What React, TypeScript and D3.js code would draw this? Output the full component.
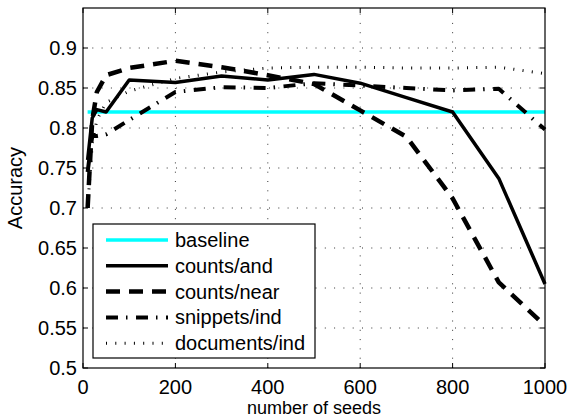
import { line, range, scaleLinear } from "d3";

const seeds = [10, 20, 30, 50, 100, 200, 300, 400, 500, 600, 700, 800, 900, 1000];
const baseline = 0.82;
const countsAnd = [0.76, 0.8125, 0.823, 0.82, 0.86, 0.857, 0.865, 0.86, 0.867, 0.856, 0.838, 0.82, 0.737, 0.605];
const countsNear = [0.7, 0.81, 0.845, 0.866, 0.875, 0.884, 0.876, 0.866, 0.855, 0.822, 0.789, 0.712, 0.607, 0.553];
const snippetsInd = [0.745, 0.79, 0.79, 0.792, 0.81, 0.845, 0.851, 0.85, 0.856, 0.853, 0.85, 0.847, 0.849, 0.798];
const documentsInd = [0.7, 0.78, 0.81, 0.832, 0.846, 0.862, 0.87, 0.875, 0.876, 0.876, 0.875, 0.875, 0.876, 0.868];

const xTicks = [0, 200, 400, 600, 800, 1000];
const yTicks = [0.5, 0.55, 0.6, 0.65, 0.7, 0.75, 0.8, 0.85, 0.9];

const font = "'Liberation Sans', Arial, Helvetica, sans-serif";

const styles = [
  { name: "baseline", color: "#00ffff", width: 3.5, dash: "none" },
  { name: "counts/and", color: "#000", width: 3.5, dash: "none" },
  { name: "counts/near", color: "#000", width: 4.5, dash: "14 9" },
  { name: "snippets/ind", color: "#000", width: 4, dash: "12 8 1.5 8.5" },
  { name: "documents/ind", color: "#000", width: 3, dash: "1 8.3" },
];

export default function App() {
  const left = 83,
    right = 545,
    top = 8,
    bottom = 368;

  const x = scaleLinear().domain([0, 1000]).range([left, right]);
  const y = scaleLinear().domain([0.5, 0.95]).range([bottom, top]);

  const path = line<number>()
    .x((_, i) => x(seeds[i]))
    .y((d) => y(d));

  const series = [
    seeds.map(() => baseline),
    countsAnd,
    countsNear,
    snippetsInd,
    documentsInd,
  ];

  const legX = 93,
    legY = 224,
    legW = 222,
    legH = 134;
  const rowH = 25.8;

  return (
    <svg width={570} height={420} style={{ position: "absolute", left: 0, top: 0, background: "#fff" }}>
      <rect x={0} y={0} width={570} height={420} fill="#fff" />

      {/* grid */}
      <g stroke="#333" strokeWidth={1} strokeDasharray="1 8.3">
        {xTicks.slice(1, -1).map((t) => (
          <line key={"gx" + t} x1={x(t)} x2={x(t)} y1={bottom} y2={top} />
        ))}
        {yTicks.slice(1).map((t) => (
          <line key={"gy" + t} x1={left} x2={right} y1={y(t)} y2={y(t)} />
        ))}
      </g>

      {/* series */}
      <g fill="none">
        {series.map((d, i) => (
          <path
            key={styles[i].name}
            d={path(d) ?? ""}
            stroke={styles[i].color}
            strokeWidth={styles[i].width}
            strokeDasharray={styles[i].dash}
            strokeLinejoin="round"
          />
        ))}
      </g>

      {/* box + ticks */}
      <rect x={left} y={top} width={right - left} height={bottom - top} fill="none" stroke="#000" strokeWidth={1.2} />
      <g stroke="#000" strokeWidth={1}>
        {xTicks.map((t) => (
          <g key={"tx" + t}>
            <line x1={x(t)} x2={x(t)} y1={bottom} y2={bottom - 5} />
            <line x1={x(t)} x2={x(t)} y1={top} y2={top + 5} />
          </g>
        ))}
        {yTicks.map((t) => (
          <g key={"ty" + t}>
            <line x1={left} x2={left + 5} y1={y(t)} y2={y(t)} />
            <line x1={right} x2={right - 5} y1={y(t)} y2={y(t)} />
          </g>
        ))}
      </g>

      {/* tick labels */}
      <g fontFamily={font} fontSize={20} fill="#000">
        {xTicks.map((t) => (
          <text key={"lx" + t} x={x(t)} y={bottom + 26} textAnchor="middle">
            {t}
          </text>
        ))}
        {yTicks.map((t) => (
          <text key={"ly" + t} x={left - 6} y={y(t) + 7} textAnchor="end">
            {String(+t.toFixed(2))}
          </text>
        ))}
      </g>

      {/* axis titles */}
      <text x={314} y={414} textAnchor="middle" fontFamily={font} fontSize={18}>
        number of seeds
      </text>
      <text
        transform={`translate(22, ${(top + bottom) / 2}) rotate(-90)`}
        textAnchor="middle"
        fontFamily={font}
        fontSize={20}
      >
        Accuracy
      </text>

      {/* legend */}
      <rect x={legX} y={legY} width={legW} height={legH} fill="#fff" stroke="#000" strokeWidth={1.2} />
      {styles.map((s, i) => {
        const cy = legY + 16 + i * rowH;
        return (
          <g key={"leg" + s.name}>
            <line
              x1={legX + 13}
              x2={legX + 75}
              y1={cy}
              y2={cy}
              stroke={s.color}
              strokeWidth={s.width}
              strokeDasharray={s.dash}
            />
            <text x={legX + 82} y={cy + 7} fontFamily={font} fontSize={20}>
              {s.name}
            </text>
          </g>
        );
      })}
    </svg>
  );
}
